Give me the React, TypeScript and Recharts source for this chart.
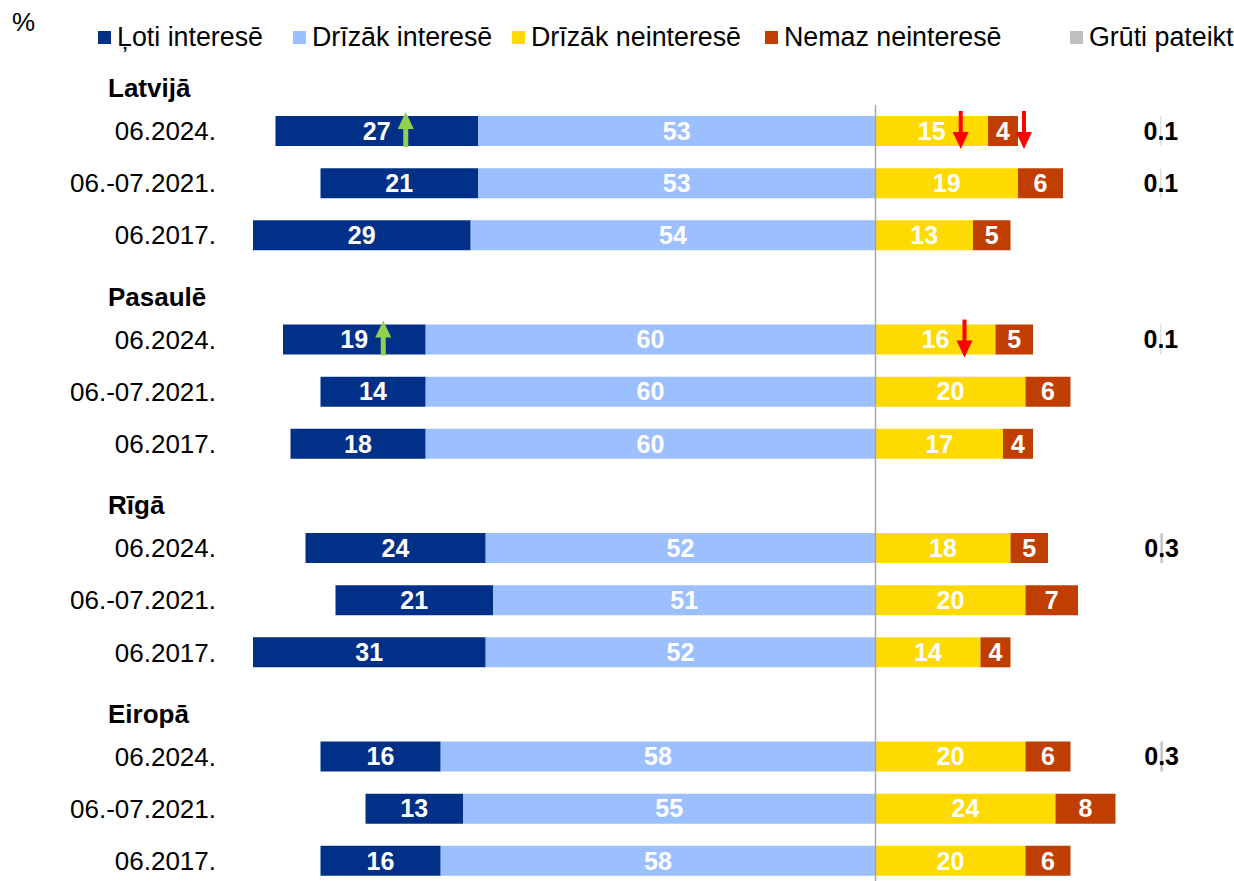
import { Bar, BarChart, LabelList, ReferenceLine, XAxis, YAxis } from "recharts";

const FONT = "'Liberation Sans', Arial, sans-serif";

const GROUPS = ["Latvijā", "Pasaulē", "Rīgā", "Eiropā"];
const PERIODS = ["06.2024.", "06.-07.2021.", "06.2017."];

// per group: 2024, 2021, 2017
const LOTI = [27, 21, 29, 19, 14, 18, 24, 21, 31, 16, 13, 16];
const DRIZAK_INT = [53, 53, 54, 60, 60, 60, 52, 51, 52, 58, 55, 58];
const DRIZAK_NE = [15, 19, 13, 16, 20, 17, 18, 20, 14, 20, 24, 20];
const NEMAZ = [4, 6, 5, 5, 6, 4, 5, 7, 4, 6, 8, 6];
const GRUTI: (number | null)[] = [0.1, 0.1, null, 0.1, null, null, 0.3, null, null, 0.3, null, null];

type ArrowDir = "up" | "down";
const ARROWS: { row: number; series: string; dir: ArrowDir }[] = [
  { row: 0, series: "loti", dir: "up" },
  { row: 0, series: "drizakNe", dir: "down" },
  { row: 0, series: "nemaz", dir: "down" },
  { row: 3, series: "loti", dir: "up" },
  { row: 3, series: "drizakNe", dir: "down" },
];

const SERIES = [
  { key: "loti", name: "Ļoti interesē", color: "#003087" },
  { key: "drizakInt", name: "Drīzāk interesē", color: "#9BBFFF" },
  { key: "drizakNe", name: "Drīzāk neinteresē", color: "#FFDA00" },
  { key: "nemaz", name: "Nemaz neinteresē", color: "#C03F00" },
  { key: "gruti", name: "Grūti pateikt", color: "#BFBFBF" },
];

// legend item left edges (px)
const LEGEND_X = [98, 293, 512, 765, 1070];

const GRUTI_AT = 38; // where the "grūti pateikt" column sits, in axis units

type Row = Record<string, unknown>;

function arrowFor(row: number, series: string) {
  return ARROWS.find((a) => a.row === row && a.series === series)?.dir ?? "";
}

const table: Row[] = [];
GROUPS.forEach((g, gi) => {
  PERIODS.forEach((p, pi) => {
    const i = gi * 3 + pi;
    table.push({
      key: `${g}-${p}`,
      label: p,
      title: pi === 0 ? g : null,
      loti: -LOTI[i],
      drizakInt: -DRIZAK_INT[i],
      drizakNe: DRIZAK_NE[i],
      nemaz: NEMAZ[i],
      spacer: GRUTI_AT - DRIZAK_NE[i] - NEMAZ[i],
      gruti: GRUTI[i],
      lotiLbl: `${LOTI[i]}|${arrowFor(i, "loti")}`,
      drizakIntLbl: `${DRIZAK_INT[i]}|${arrowFor(i, "drizakInt")}`,
      drizakNeLbl: `${DRIZAK_NE[i]}|${arrowFor(i, "drizakNe")}`,
      nemazLbl: `${NEMAZ[i]}|${arrowFor(i, "nemaz")}`,
      grutiLbl: GRUTI[i] == null ? null : String(GRUTI[i]),
    });
  });
  if (gi < GROUPS.length - 1) table.push({ key: `gap-${gi}`, label: "", title: null });
});

function Arrow({ x, top, bottom, dir }: { x: number; top: number; bottom: number; dir: ArrowDir }) {
  const head = 17;
  const half = 8;
  if (dir === "up") {
    const tip = top - 4;
    const tail = bottom + 1;
    return (
      <g fill="#92D050">
        <rect x={x - 2.5} y={tip + head - 1} width={5} height={tail - tip - head + 1} />
        <polygon points={`${x},${tip} ${x - half},${tip + head} ${x + half},${tip + head}`} />
      </g>
    );
  }
  const tail = top - 5;
  const tip = bottom + 3;
  return (
    <g fill="#FF0000">
      <rect x={x - 2} y={tail} width={4} height={tip - tail - head + 1} />
      <polygon points={`${x},${tip} ${x - half},${tip - head} ${x + half},${tip - head}`} />
    </g>
  );
}

const segLabel = (props: any) => {
  const { value } = props;
  if (value == null) return null;
  const vb = props.viewBox ?? props;
  const x = Number(vb.x);
  const w = Number(vb.width);
  const y = Number(vb.y);
  const h = Number(vb.height);
  const [txt, arrow] = String(value).split("|");
  const cx = x + w / 2;
  const cy = y + h / 2;
  const right = Math.max(x, x + w);
  const ax = Math.abs(w) >= 60 ? cx + 29 : right + 6;
  return (
    <g>
      <text
        x={cx}
        y={cy}
        dy="0.35em"
        textAnchor="middle"
        fill="#fff"
        fontSize={25}
        fontWeight="bold"
        fontFamily={FONT}
      >
        {txt}
      </text>
      {arrow ? (
        <Arrow x={ax} top={Math.min(y, y + h)} bottom={Math.max(y, y + h)} dir={arrow as ArrowDir} />
      ) : null}
    </g>
  );
};

const grutiLabel = (props: any) => {
  const { value } = props;
  if (value == null) return null;
  const vb = props.viewBox ?? props;
  const cx = Number(vb.x) + Number(vb.width) / 2;
  const cy = Number(vb.y) + Number(vb.height) / 2;
  return (
    <text
      x={cx}
      y={cy}
      dy="0.35em"
      textAnchor="middle"
      fill="#000"
      fontSize={25}
      fontWeight="bold"
      fontFamily={FONT}
    >
      {value}
    </text>
  );
};

const RowTick = (props: any) => {
  const { x, y, payload } = props;
  const row = table.find((r) => r.key === payload.value);
  if (!row) return null;
  return (
    <g>
      {row.title ? (
        <text
          x={108}
          y={y - 43}
          dy="0.35em"
          textAnchor="start"
          fontSize={26}
          fontWeight="bold"
          fill="#000"
          fontFamily={FONT}
        >
          {String(row.title)}
        </text>
      ) : null}
      <text x={x} y={y} dy="0.35em" textAnchor="end" fontSize={26} fill="#000" fontFamily={FONT}>
        {String(row.label)}
      </text>
    </g>
  );
};

function TopLegend() {
  return (
    <>
      <div style={{ position: "absolute", left: 12, top: 7, fontSize: 26, lineHeight: "30px" }}>%</div>
      {SERIES.map((s, i) => (
        <div
          key={s.key}
          style={{
            position: "absolute",
            left: LEGEND_X[i],
            top: 22,
            display: "flex",
            alignItems: "center",
            fontSize: 26.8,
            lineHeight: "30px",
            whiteSpace: "nowrap",
          }}
        >
          <span style={{ width: 13, height: 13, background: s.color, marginRight: 6, display: "inline-block" }} />
          {s.name}
        </div>
      ))}
    </>
  );
}

export default function App() {
  return (
    <div
      style={{
        position: "absolute",
        left: 0,
        top: 0,
        width: 1234,
        height: 881,
        overflow: "hidden",
        background: "#fff",
        fontFamily: FONT,
        color: "#000",
      }}
    >
      <TopLegend />
      <BarChart
        width={1234}
        height={887}
        data={table}
        layout="vertical"
        stackOffset="sign"
        barSize={30}
        margin={{ top: 105, right: 21, bottom: 0, left: 0 }}
      >
        <XAxis type="number" domain={[-85, 45]} hide allowDataOverflow />
        <YAxis
          type="category"
          dataKey="key"
          width={238}
          axisLine={false}
          tickLine={false}
          tickSize={0}
          tickMargin={22}
          interval={0}
          tick={<RowTick />}
        />
        <Bar dataKey="drizakInt" stackId="s" fill="#9BBFFF" isAnimationActive={false}>
          <LabelList dataKey="drizakIntLbl" content={segLabel} />
        </Bar>
        <Bar dataKey="loti" stackId="s" fill="#003087" isAnimationActive={false}>
          <LabelList dataKey="lotiLbl" content={segLabel} />
        </Bar>
        <Bar dataKey="drizakNe" stackId="s" fill="#FFDA00" isAnimationActive={false}>
          <LabelList dataKey="drizakNeLbl" content={segLabel} />
        </Bar>
        <Bar dataKey="nemaz" stackId="s" fill="#C03F00" isAnimationActive={false}>
          <LabelList dataKey="nemazLbl" content={segLabel} />
        </Bar>
        <Bar dataKey="spacer" stackId="s" fill="transparent" isAnimationActive={false} />
        <Bar dataKey="gruti" stackId="s" fill="#BFBFBF" isAnimationActive={false}>
          <LabelList dataKey="grutiLbl" content={grutiLabel} />
        </Bar>
        <ReferenceLine x={0} stroke="#A6A6A6" strokeWidth={1.5} ifOverflow="extendDomain" />
      </BarChart>
    </div>
  );
}
